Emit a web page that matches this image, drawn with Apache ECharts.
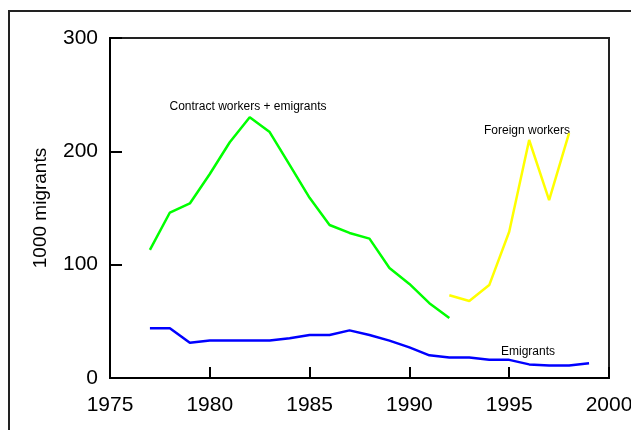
<!DOCTYPE html>
<html>
<head>
<meta charset="utf-8">
<script src="https://cdn.jsdelivr.net/npm/echarts@6/dist/echarts.min.js"></script>
<style>html,body{margin:0;padding:0;background:#fff}#c{width:631px;height:430px}</style>
</head>
<body>
<div id="c"></div>
<script>
const years = [1977,1978,1979,1980,1981,1982,1983,1984,1985,1986,1987,1988,1989,1990,1991,1992,1993,1994,1995,1996,1997,1998,1999];
const contractYears = [1977,1978,1979,1980,1981,1982,1983,1984,1985,1986,1987,1988,1989,1990,1991,1992];
const contractValues = [113,146,154,180,208,230,217,188,159,135,128,123,97,83,66,53];
const foreignYears = [1992,1993,1994,1995,1996,1997,1998];
const foreignValues = [73,68,82,129,210,157,216];
const emigrantValues = [44,44,31,33,33,33,33,35,38,38,42,38,33,27,20,18,18,16,16,12,11,11,13];
const xTicks = [1975,1980,1985,1990,1995,2000];
const yTicks = [0,100,200,300];

const pair = (xs, vs) => xs.map((x, i) => [x, vs[i]]);
const font = 'Liberation Sans, Arial, sans-serif';

const chart = echarts.init(document.getElementById('c'), null, {renderer: 'canvas'});
chart.setOption({
  animation: false,
  backgroundColor: '#fff',
  grid: {left: 110, top: 38, right: 22, bottom: 52, show: true, borderColor: '#222', borderWidth: 2, containLabel: false, outerBoundsMode: 'none'},
  xAxis: {
    type: 'value', min: xTicks[0], max: xTicks[xTicks.length - 1], interval: 5,
    axisLine: {show: true, lineStyle: {color: '#000', width: 2}},
    axisTick: {show: true, inside: true, length: 11, lineStyle: {color: '#000', width: 2}},
    axisLabel: {color: '#000', fontSize: 21, fontFamily: font, margin: 17, formatter: v => String(v), hideOverlap: false},
    splitLine: {show: false}
  },
  yAxis: {
    type: 'value', min: yTicks[0], max: yTicks[yTicks.length - 1], interval: 100,
    name: '1000 migrants', nameLocation: 'middle', nameGap: 60, nameRotate: 90,
    nameTextStyle: {color: '#000', fontSize: 19, fontFamily: font},
    axisLine: {show: true, lineStyle: {color: '#000', width: 2}},
    axisTick: {show: true, inside: true, length: 12, lineStyle: {color: '#000', width: 2}},
    axisLabel: {color: '#000', fontSize: 21, fontFamily: font, margin: 12},
    splitLine: {show: false}
  },
  series: [
    {type: 'line', name: 'Contract workers + emigrants', data: pair(contractYears, contractValues), showSymbol: false, symbol: 'none', lineStyle: {color: '#00ff00', width: 2.5}},
    {type: 'line', name: 'Foreign workers', data: pair(foreignYears, foreignValues), showSymbol: false, symbol: 'none', lineStyle: {color: '#ffff00', width: 2.5}},
    {type: 'line', name: 'Emigrants', data: pair(years, emigrantValues), showSymbol: false, symbol: 'none', lineStyle: {color: '#0000ff', width: 2.5}}
  ],
  graphic: [
    {type: 'rect', shape: {x: 9, y: 11, width: 800, height: 600}, style: {fill: 'none', stroke: '#222', lineWidth: 2}, z: 100},
    {type: 'text', x: 248, y: 107, style: {text: 'Contract workers + emigrants', fill: '#000', font: '12px ' + font, textAlign: 'center', textVerticalAlign: 'middle'}},
    {type: 'text', x: 527, y: 131, style: {text: 'Foreign workers', fill: '#000', font: '12px ' + font, textAlign: 'center', textVerticalAlign: 'middle'}},
    {type: 'text', x: 528, y: 352, style: {text: 'Emigrants', fill: '#000', font: '12px ' + font, textAlign: 'center', textVerticalAlign: 'middle'}}
  ]
});
</script>
</body>
</html>
